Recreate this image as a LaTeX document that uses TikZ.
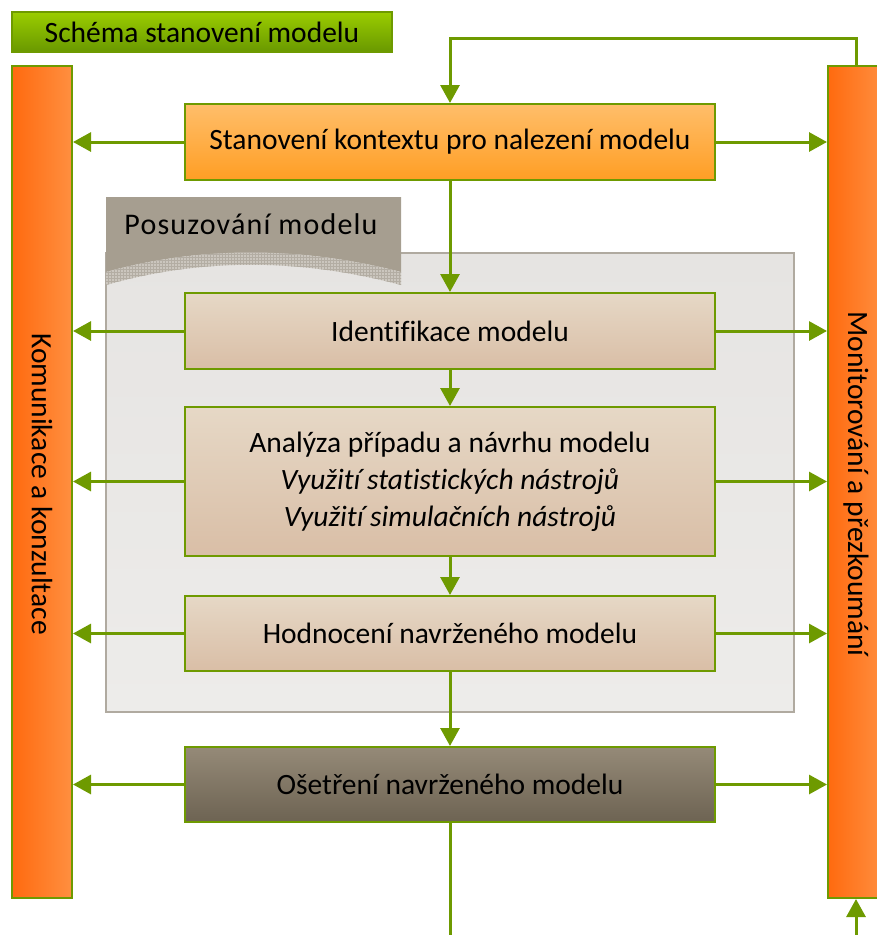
\documentclass[tikz,border=0pt]{standalone}
\usepackage{fontspec}
\setmainfont{Carlito}[Ligatures=NoCommon]
\usetikzlibrary{arrows.meta,patterns,calc}
\definecolor{grn}{HTML}{6E9A00}
\definecolor{titleT}{HTML}{9ACD00}
\definecolor{titleB}{HTML}{699800}
\definecolor{barL}{HTML}{FF6A0F}
\definecolor{barR}{HTML}{FF8F40}
\definecolor{topT}{HTML}{FFBE6A}
\definecolor{topB}{HTML}{FF9E24}
\definecolor{beiT}{HTML}{E6D8C6}
\definecolor{beiB}{HTML}{D9BEA6}
\definecolor{drkT}{HTML}{958A78}
\definecolor{drkB}{HTML}{6D6352}
\definecolor{panT}{HTML}{E6E4E2}
\definecolor{panB}{HTML}{EDECEA}
\definecolor{panD}{HTML}{B0AAA0}
\definecolor{tabC}{HTML}{A69E90}
\definecolor{gridC}{HTML}{CBC6BE}
\definecolor{gridL}{HTML}{B3ADA3}
\tikzset{
  txt/.style={font=\fontsize{29.5}{37}\selectfont, text=black, align=center},
  box/.style={txt, draw=grn, line width=2pt, minimum width=530, inner sep=0pt},
  topbox/.style={box, top color=topT, bottom color=topB},
  beibox/.style={box, top color=beiT, bottom color=beiB},
  drkbox/.style={box, top color=drkT, bottom color=drkB},
  sidebar/.style={draw=grn, line width=2pt, left color=barL, right color=barR, inner sep=0pt, minimum height=832},
  ln/.style={draw=grn, line width=3pt},
  arr/.style={ln, -{Triangle[length=18pt,width=19pt]}},
}
\begin{document}
\begin{tikzpicture}[x=1pt,y=-1pt]
\useasboundingbox (0,0) rectangle (877,935);
% title
\node[txt, draw=grn, line width=1.5pt, top color=titleT, bottom color=titleB, minimum width=380, minimum height=40, inner sep=0pt] (title) at (202,32) {Schéma stanovení modelu};
% side bars
\node[sidebar, minimum width=60] (lbar) at (42,482) {};
\node[sidebar, minimum width=56] (rbar) at (856,482) {};
\node[txt, rotate=-90] (ltxt) at (42,484) {Komunikace a konzultace};
\node[txt, rotate=-90] (rtxt) at (856,484) {Monitorování a přezkoumání};
% panel
\node[draw=panD, line width=1.5pt, top color=panT, bottom color=panB, minimum width=688, minimum height=459, inner sep=0pt] (panel) at (450,482.5) {};
% tab
\fill[tabC] (106,197) -- (401,197) -- (401,272) .. controls (300,246) and (200,246) .. (106,272) -- cycle;
\fill[gridC] (106,272) .. controls (200,246) and (300,246) .. (401,272) -- (401,285) .. controls (300,258) and (200,258) .. (106,285) -- cycle;
\fill[pattern=grid, pattern color=gridL] (106,272) .. controls (200,246) and (300,246) .. (401,272) -- (401,285) .. controls (300,258) and (200,258) .. (106,285) -- cycle;
\node[txt, font=\fontsize{30}{34}\selectfont\addfontfeature{LetterSpace=4}] (tabtxt) at (251,224) {Posuzování modelu};
% boxes
\node[topbox, minimum height=76] (top) at (450,142) {Stanovení kontextu pro nalezení modelu};
\node[beibox, minimum height=76] (ident) at (450,331) {Identifikace modelu};
\node[beibox, minimum height=149] (anal) at (450,481.5) {Analýza případu a návrhu modelu\\\textit{Využití statistických nástrojů}\\\textit{Využití simulačních nástrojů}};
\node[beibox, minimum height=75] (hodn) at (450,633.5) {Hodnocení navrženého modelu};
\node[drkbox, minimum height=75] (ose) at (450,784.5) {Ošetření navrženého modelu};
% connectors
\coordinate (loopL) at (450,38);
\coordinate (botL) at (450,935);
\coordinate (botR) at (856,935);
\draw[arr] (rbar.north) |- (loopL) -- (top.north);
\draw[arr] (top.south) -- (ident.north);
\draw[arr] (ident.south) -- (anal.north);
\draw[arr] (anal.south) -- (hodn.north);
\draw[arr] (hodn.south) -- (ose.north);
\draw[ln] (ose.south) -- (botL);
\draw[arr] (botR) -- (rbar.south);
\foreach \n in {top,ident,anal,hodn,ose}{
  \draw[arr] (\n.west) -- (\n.west -| lbar.east);
  \draw[arr] (\n.east) -- (\n.east -| rbar.west);
}
\end{tikzpicture}
\end{document}
